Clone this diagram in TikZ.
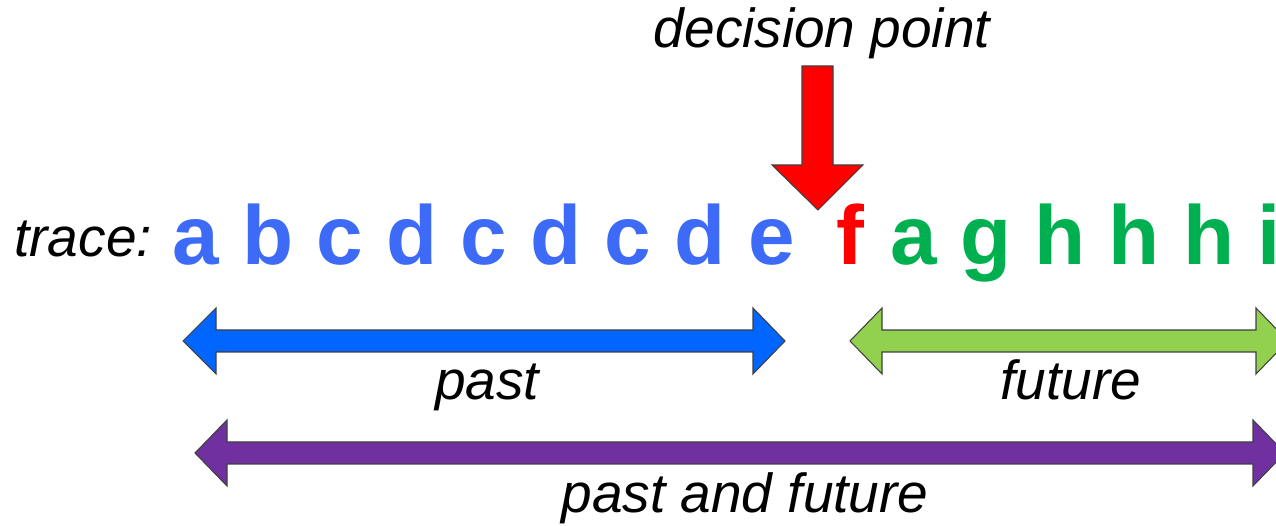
\documentclass[tikz,border=0pt]{standalone}
\usepackage{fontspec}
\setmainfont{Liberation Sans}
\definecolor{pastblue}{HTML}{0066FF}
\definecolor{seqblue}{HTML}{3D6BF7}
\definecolor{seqgreen}{HTML}{00B050}
\definecolor{futgreen}{HTML}{92D050}
\definecolor{bothpurple}{HTML}{7030A0}
\tikzset{lbl/.style={font=\fontsize{31.3}{33}\selectfont\itshape,inner sep=0,anchor=base},
 seq/.style={font=\fontsize{47.6}{50}\selectfont\bfseries,inner sep=0,anchor=base west},
 blk/.style={draw=black!75,line width=.6pt,line join=miter}}

\begin{document}
\begin{tikzpicture}[x=.02cm,y=-.02cm]
\useasboundingbox(0,0)rectangle(1276,526);
\clip(0,0)rectangle(1276,526);
\node[lbl](ldec) at(822,48){decision point};
\draw[blk,fill=red](802,66)--(833,66)--(833,165)--(863,165)--(818,210)--(772,165)--(802,165)--cycle;
\node[lbl,anchor=base west](trace) at(14,257){trace:};
\node[seq,text=seqblue](seqpast) at(172,265){a b c d c d c d e};
\node[seq,text=red](seqf) at(836,265){f};
\node[seq,text=seqgreen](seqfut) at(890,265){a g h h h i};
\draw[blk,fill=pastblue](183,341)--(216,308)--(216,330)--(753,330)--(753,308)--(785,341)--(753,374)--(753,352)--(216,352)--(216,374)--cycle;
\draw[blk,fill=futgreen](850,341)--(882,308)--(882,330)--(1256,330)--(1256,308)--(1288,341)--(1256,374)--(1256,352)--(882,352)--(882,374)--cycle;
\node[lbl](lpast) at(487,400){past};
\node[lbl](lfut) at(1071,400){future};
\draw[blk,fill=bothpurple](195,453)--(227,420)--(227,442)--(1253,442)--(1253,420)--(1285,453)--(1253,486)--(1253,464)--(227,464)--(227,486)--cycle;
\node[lbl](lboth) at(745,513){past and future};
\end{tikzpicture}
\end{document}
